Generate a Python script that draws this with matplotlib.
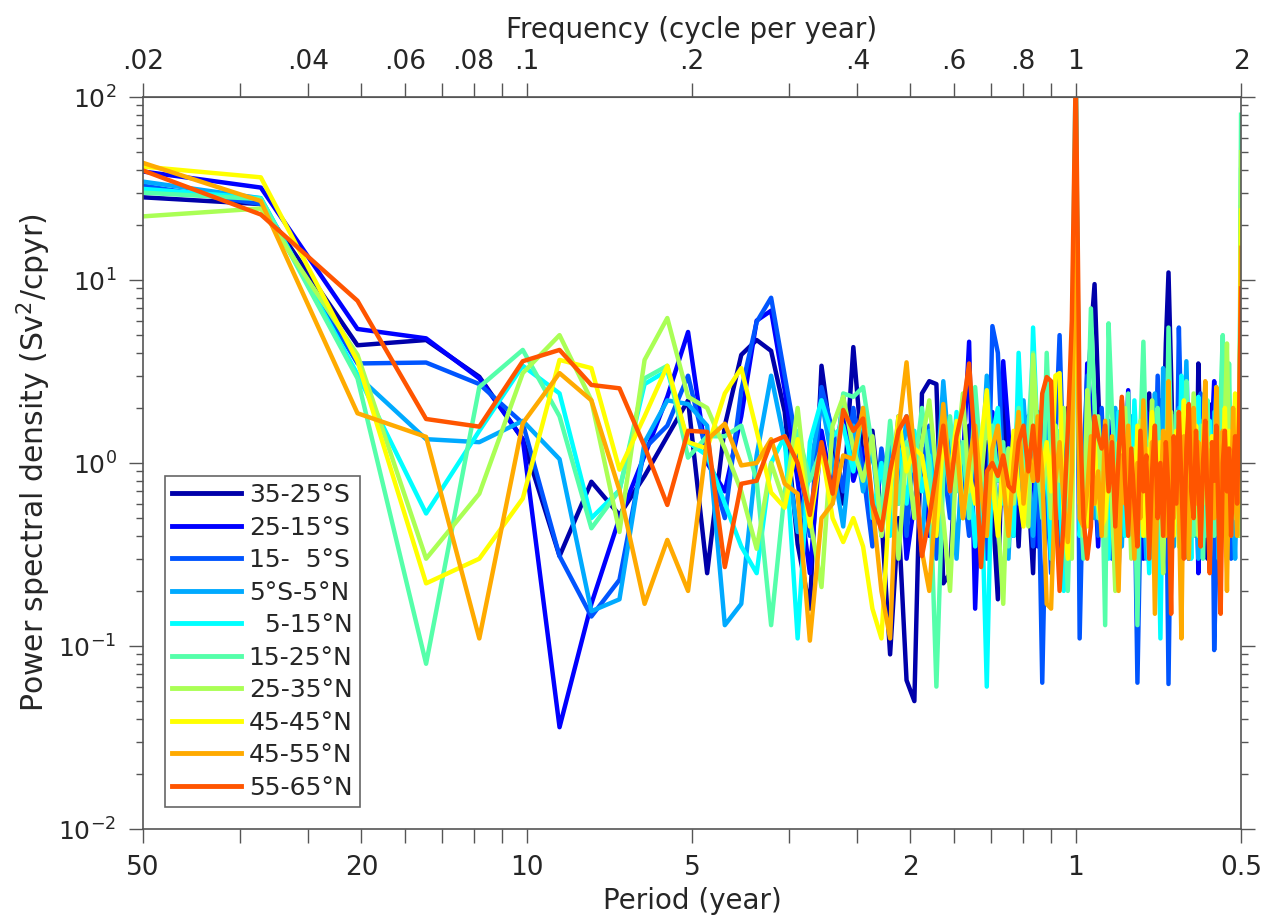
import matplotlib
matplotlib.use('Agg')
from matplotlib import pyplot as plt
from matplotlib.ticker import NullLocator
import numpy as np

plt.rcParams['font.family'] = ['DejaVu Sans']

# spectral estimates at harmonics k/61 cpy, k = 1..122
record_years = 61
freq = np.arange(1, 123) / record_years

region_labels = ['35-25°S', '25-15°S', '15-  5°S', '5°S-5°N', '  5-15°N',
                 '15-25°N', '25-35°N', '45-45°N', '45-55°N', '55-65°N']
# matlab jet(12), first ten entries
region_colors = [(0, 0, 2 / 3), (0, 0, 1), (0, 1 / 3, 1), (0, 2 / 3, 1), (0, 1, 1),
                 (1 / 3, 1, 2 / 3), (2 / 3, 1, 1 / 3), (1, 1, 0), (1, 2 / 3, 0), (1, 1 / 3, 0)]

psd_35_25s = [29.3, 26, 4.4, 4.7, 2.96, 1.35, 0.31, 0.79, 0.52, 0.85,
              1.4, 2.2, 0.25, 1.6, 3.9, 4.7, 4.1, 1.9, 0.36, 0.16,
              3.4, 1.2, 0.6, 4.3, 1.0, 1.5, 0.5, 0.09, 0.5, 0.065,
              0.05, 2.4, 2.8, 2.7, 0.22, 0.25, 1.3, 0.6, 1.6, 0.9,
              0.4, 1.3, 0.6, 0.18, 2.2, 0.8, 1.1, 0.35, 1.5, 0.7,
              0.25, 1.9, 0.9, 1.3, 0.6, 0.4, 1.2, 0.8, 2.0, 1.3,
              45, 0.5, 0.4, 2.0, 5.0, 9.5, 2.5, 0.8, 1.4, 0.9,
              0.35, 1.6, 0.5, 2.2, 1.0, 0.45, 0.7, 1.8, 0.4, 0.3,
              1.1, 0.6, 2.4, 0.9, 0.5, 1.5, 0.3, 1.2, 4.5, 11,
              3.0, 0.7, 1.3, 0.45, 0.9, 2.6, 0.7, 0.3, 1.5, 0.9,
              0.4, 3.5, 1.2, 0.6, 1.9, 0.3, 0.8, 2.1, 0.5, 1.0,
              0.25, 1.5, 0.7, 3.2, 0.9, 0.4, 1.6, 0.6, 2.0, 0.8,
              0.5, 5.0]

psd_25_15s = [42.5, 32, 5.4, 4.8, 2.9, 1.35, 0.036, 0.17, 0.5, 1.1,
              2.3, 5.2, 1.0, 0.7, 1.8, 6.0, 6.8, 2.5, 0.8, 0.25,
              1.5, 0.7, 2.3, 0.8, 1.2, 0.4, 1.0, 0.7, 1.5, 0.3,
              0.6, 1.2, 0.4, 0.9, 2.0, 0.7, 1.5, 1.0, 4.6, 0.16,
              1.2, 0.5, 1.9, 0.8, 3.6, 1.5, 0.4, 1.1, 0.6, 1.8,
              0.9, 0.35, 1.4, 2.6, 0.7, 1.0, 0.3, 1.3, 0.8, 2.2,
              70, 1.0, 0.5, 3.5, 2.0, 0.9, 0.35, 1.2, 0.6, 1.7,
              0.5, 0.9, 0.25, 1.4, 0.7, 2.5, 0.4, 0.8, 1.5, 0.6,
              0.3, 1.9, 0.8, 0.5, 1.3, 0.4, 2.2, 0.9, 0.6, 1.1,
              0.3, 1.6, 0.5, 3.0, 0.7, 1.2, 0.4, 0.9, 2.0, 0.5,
              1.4, 0.25, 1.0, 0.6, 1.8, 0.8, 0.3, 1.5, 2.8, 0.7,
              1.1, 0.4, 2.0, 0.9, 0.5, 1.6, 0.35, 1.2, 0.7, 0.5,
              0.4, 3.0]

psd_15_5s = [36, 26, 3.5, 3.54, 2.7, 1.65, 0.31, 0.145, 0.23, 1.2,
             1.6, 3.0, 1.1, 0.5, 2.5, 5.9, 8.0, 3.0, 1.2, 0.4,
             2.6, 1.5, 0.7, 2.0, 0.9, 0.35, 1.2, 0.6, 1.8, 0.4,
             1.4, 0.9, 1.6, 0.3, 1.0, 0.5, 1.4, 0.8, 0.4, 1.5,
             0.7, 0.3, 5.6, 4.0, 0.9, 0.4, 1.2, 0.6, 1.9, 0.8,
             0.35, 1.5, 0.063, 1.0, 0.25, 1.3, 5.0, 0.8, 0.4, 1.6,
             90, 0.11, 1.0, 3.0, 0.5, 1.2, 0.4, 2.0, 0.6, 1.0,
             0.3, 1.4, 0.8, 0.4, 1.7, 0.6, 1.0, 0.9, 0.063, 0.5,
             2.0, 0.9, 0.3, 1.4, 0.7, 3.0, 1.0, 0.5, 1.5, 0.062,
             0.8, 1.8, 0.5, 5.5, 1.5, 0.6, 1.2, 0.3, 1.9, 0.7,
             0.4, 1.3, 2.4, 0.6, 0.8, 1.0, 0.5, 1.6, 0.095, 0.3,
             1.4, 2.5, 0.6, 1.1, 0.4, 0.8, 0.3, 1.5, 0.6, 0.4,
             0.5, 20]

psd_5s_5n = [37.5, 28, 3.0, 1.35, 1.3, 1.7, 1.05, 0.155, 0.18, 1.3,
             2.2, 2.1, 1.6, 0.13, 0.17, 1.1, 3.0, 1.3, 0.42, 0.9,
             2.2, 1.0, 0.45, 1.6, 0.7, 1.2, 0.4, 1.4, 0.6, 1.8,
             0.9, 0.35, 1.5, 0.7, 2.8, 1.0, 0.3, 1.2, 0.6, 1.7,
             0.8, 3.0, 1.2, 0.5, 1.0, 0.3, 1.4, 0.7, 2.2, 0.9,
             0.4, 1.1, 0.6, 1.8, 0.3, 1.0, 0.5, 1.3, 0.7, 1.0,
             100, 0.5, 0.35, 2.5, 1.0, 0.5, 1.6, 0.7, 0.3, 1.3,
             0.6, 2.0, 0.8, 0.35, 1.2, 0.6, 1.8, 0.9, 0.4, 1.5,
             0.7, 0.3, 1.1, 0.5, 2.4, 1.0, 0.45, 3.3, 1.2, 0.6,
             1.5, 0.35, 0.9, 2.0, 0.6, 1.3, 3.6, 1.1, 0.5, 1.4,
             0.7, 0.3, 1.7, 0.8, 2.6, 0.5, 1.2, 0.4, 1.9, 0.9,
             0.3, 1.0, 2.9, 0.7, 1.3, 0.5, 1.9, 0.6, 0.3, 0.9,
             0.4, 25]

psd_5_15n = [33, 28, 3.05, 0.53, 1.5, 3.4, 2.4, 0.5, 0.71, 2.7,
             3.2, 1.3, 1.1, 0.6, 0.35, 0.25, 1.0, 1.4, 0.11, 1.3,
             2.2, 1.4, 1.6, 0.9, 2.0, 0.5, 1.0, 0.4, 1.2, 0.6,
             1.5, 0.7, 1.1, 0.5, 1.3, 0.7, 1.9, 0.5, 1.0, 0.35,
             0.9, 0.06, 1.4, 2.0, 0.6, 1.2, 0.4, 4.0, 1.0, 0.5,
             5.5, 1.3, 0.6, 1.1, 0.3, 1.6, 0.8, 0.2, 1.2, 3.0,
             160, 0.4, 0.7, 1.2, 0.5, 0.8, 1.5, 0.5, 1.0, 0.3,
             1.3, 0.6, 1.9, 0.8, 0.4, 1.1, 0.6, 2.2, 0.9, 0.4,
             1.3, 0.6, 0.25, 0.9, 1.6, 0.7, 0.11, 1.2, 0.5, 2.0,
             0.8, 0.4, 1.4, 0.7, 3.0, 1.2, 0.5, 1.0, 0.3, 1.6,
             0.8, 2.3, 0.6, 1.3, 0.4, 0.9, 1.7, 0.5, 1.1, 2.6,
             0.6, 0.3, 1.2, 0.7, 2.1, 0.9, 0.4, 1.4, 0.6, 1.8,
             0.5, 40]

psd_15_25n = [31, 27.7, 2.9, 0.08, 2.6, 4.15, 1.8, 0.44, 0.71, 2.9,
              3.4, 1.07, 1.4, 1.4, 1.6, 0.8, 0.13, 0.7, 1.5, 0.8,
              1.2, 0.6, 2.4, 2.3, 2.6, 1.2, 0.5, 1.7, 0.6, 1.3,
              0.9, 2.0, 1.0, 0.06, 0.9, 1.8, 0.7, 1.3, 0.5, 2.6,
              1.0, 0.4, 1.6, 0.8, 1.3, 0.35, 1.1, 2.0, 0.7, 1.5,
              4.0, 1.0, 0.5, 4.0, 1.0, 0.4, 1.5, 0.7, 0.2, 1.1,
              110, 0.8, 0.3, 1.3, 7.0, 2.0, 0.5, 1.1, 0.13, 5.8,
              1.9, 1.0, 0.5, 1.4, 0.7, 2.4, 0.4, 1.0, 0.13, 1.5,
              4.6, 1.0, 0.5, 1.3, 0.35, 2.0, 0.8, 1.4, 0.6, 5.5,
              1.2, 0.5, 1.9, 0.7, 0.3, 1.0, 2.8, 0.6, 1.5, 0.4,
              1.1, 0.5, 1.6, 0.3, 0.9, 2.2, 0.7, 1.3, 0.4, 1.0,
              0.6, 2.3, 5.0, 1.2, 0.5, 3.5, 0.9, 1.5, 0.5, 1.0,
              0.6, 80]

psd_25_35n = [21.4, 24.6, 3.9, 0.30, 0.68, 3.1, 5.0, 2.2, 0.42, 3.66,
              6.2, 2.3, 2.0, 1.2, 0.7, 0.34, 1.0, 0.6, 2.0, 0.5,
              0.21, 1.6, 2.3, 1.2, 0.8, 1.4, 0.4, 0.9, 0.3, 1.2,
              0.5, 1.3, 2.2, 0.9, 0.5, 0.2, 1.1, 2.4, 0.7, 1.5,
              0.8, 1.8, 1.0, 0.5, 0.17, 1.2, 0.6, 1.5, 0.8, 0.45,
              3.9, 1.4, 0.7, 1.2, 0.5, 1.6, 0.8, 2.0, 1.0, 0.3,
              40, 1.0, 0.4, 2.5, 1.4, 0.6, 1.8, 0.8, 0.4, 1.1,
              0.6, 0.2, 1.3, 0.7, 2.0, 0.9, 0.3, 1.2, 0.6, 1.7,
              0.8, 0.4, 1.0, 2.2, 0.5, 1.3, 0.7, 0.25, 1.5, 0.8,
              1.9, 0.6, 1.1, 0.35, 1.4, 0.7, 1.7, 0.5, 1.0, 2.4,
              0.9, 0.4, 1.2, 0.6, 1.8, 0.8, 0.3, 1.4, 0.7, 2.0,
              0.5, 1.1, 0.4, 1.6, 4.5, 1.0, 0.5, 1.3, 0.7, 1.5,
              0.4, 50]

psd_45_45n = [44, 36.4, 3.6, 0.22, 0.30, 0.64, 3.66, 3.3, 0.92, 1.8,
              3.4, 1.3, 1.2, 2.4, 3.3, 1.5, 0.69, 0.57, 1.35, 0.45,
              1.2, 0.5, 0.37, 0.5, 0.35, 0.16, 0.11, 0.7, 1.8, 0.9,
              1.2, 1.1, 0.6, 0.4, 1.4, 0.8, 1.7, 0.5, 0.9, 0.6,
              1.3, 2.5, 0.8, 0.4, 1.1, 0.6, 1.5, 0.7, 0.45, 1.2,
              0.8, 1.6, 0.9, 1.3, 0.7, 3.0, 3.1, 0.5, 0.3, 1.0,
              25, 0.6, 0.7, 0.45, 0.9, 1.3, 0.6, 0.45, 0.5, 0.9,
              1.2, 0.7, 0.4, 1.0, 1.4, 0.6, 1.1, 0.5, 1.6, 0.8,
              0.4, 1.2, 0.7, 1.9, 0.9, 0.5, 1.3, 0.6, 1.0, 1.8,
              0.8, 0.4, 1.5, 0.7, 1.1, 2.2, 0.6, 1.3, 0.5, 0.9,
              1.6, 0.7, 0.4, 1.2, 2.7, 0.8, 0.5, 1.4, 0.9, 0.6,
              1.3, 0.4, 1.0, 2.0, 0.7, 1.5, 0.5, 1.1, 2.4, 0.8,
              0.6, 24]

psd_45_55n = [53, 27, 1.87, 1.39, 0.11, 1.65, 3.1, 2.2, 0.71, 0.17,
              0.38, 0.20, 1.34, 1.64, 0.97, 1.0, 1.35, 0.77, 0.68, 0.107,
              0.5, 0.6, 1.1, 1.05, 2.0, 0.6, 0.2, 0.11, 1.5, 3.55,
              1.1, 0.33, 0.2, 0.7, 2.1, 0.8, 1.3, 0.5, 1.0, 1.6,
              0.7, 0.4, 1.2, 1.6, 0.8, 0.4, 1.0, 1.9, 0.6, 1.1,
              0.8, 1.8, 0.9, 0.17, 0.16, 0.8, 1.3, 0.6, 0.37, 0.9,
              60, 0.5, 0.45, 0.7, 1.4, 0.6, 0.9, 0.4, 1.7, 0.8,
              1.4, 0.5, 0.2, 1.1, 0.6, 1.6, 0.7, 0.3, 1.0, 0.5,
              2.2, 0.8, 0.4, 1.3, 0.15, 0.9, 0.6, 1.5, 0.4, 2.8,
              0.9, 0.5, 1.2, 0.6, 0.11, 1.4, 0.7, 0.3, 1.0, 2.0,
              0.6, 1.3, 0.4, 0.9, 2.8, 0.7, 0.3, 1.2, 0.5, 2.6,
              1.0, 0.4, 1.5, 0.7, 0.2, 1.1, 0.6, 2.0, 0.8, 0.4,
              1.0, 15]

psd_55_65n = [49.6, 22.8, 7.7, 1.74, 1.58, 3.6, 4.15, 2.67, 2.56, 1.23,
              0.59, 1.5, 1.48, 0.27, 0.77, 0.8, 1.3, 1.4, 1.0, 0.52,
              1.3, 0.68, 1.95, 1.5, 1.75, 0.6, 0.43, 0.9, 1.5, 1.8,
              1.0, 0.31, 0.5, 0.9, 1.6, 0.7, 1.4, 2.0, 3.5, 1.2,
              0.27, 0.9, 1.0, 0.85, 1.1, 0.75, 0.7, 1.3, 1.6, 0.9,
              1.6, 0.8, 2.4, 2.95, 2.8, 0.6, 0.2, 0.5, 1.5, 6.0,
              140, 2.0, 0.5, 0.3, 0.45, 1.8, 1.4, 1.2, 1.6, 0.7,
              1.3, 0.45, 1.1, 2.3, 0.8, 0.4, 1.2, 0.6, 0.35, 1.5,
              0.7, 1.1, 0.3, 0.9, 1.6, 0.5, 1.0, 0.4, 1.3, 0.7,
              0.15, 1.4, 0.6, 1.9, 0.8, 0.3, 1.2, 2.1, 0.7, 0.5,
              1.5, 0.8, 0.35, 1.0, 1.7, 0.6, 0.25, 1.3, 0.8, 1.6,
              0.5, 0.15, 1.0, 1.5, 0.7, 1.2, 0.4, 0.9, 1.4, 0.6,
              1.8, 9]

all_psd = [psd_35_25s, psd_25_15s, psd_15_5s, psd_5s_5n, psd_5_15n,
           psd_15_25n, psd_25_35n, psd_45_45n, psd_45_55n, psd_55_65n]

freq_ticks = [0.02, 0.03, 0.04, 0.05, 0.06, 0.07, 0.08, 0.09, 0.1,
              0.2, 0.3, 0.4, 0.5, 0.6, 0.7, 0.8, 0.9, 1, 2]
top_labels = ['.02', '', '.04', '', '.06', '', '.08', '', '.1',
              '.2', '', '.4', '', '.6', '', '.8', '', '1', '2']
period_labels = ['50', '', '', '20', '', '', '', '', '10',
                 '5', '', '', '2', '', '', '', '', '1', '0.5']

frame_color = '#555555'
text_color = '#262626'

fig = plt.figure(figsize=(12.73, 9.24), dpi=100)
ax = fig.add_axes([0.1123, 0.1028, 0.8626, 0.7922])

for psd, label, color in zip(all_psd, region_labels, region_colors):
    ax.plot(freq, psd, color=color, lw=3.2, label=label)

ax.set_xscale('log')
ax.set_yscale('log')
ax.set_xlim(0.02, 2)
ax.set_ylim(1e-2, 1e2)

ax.set_xticks(freq_ticks, labels=period_labels)
ax.xaxis.set_minor_locator(NullLocator())
ax.set_yticks([1e-2, 1e-1, 1e0, 1e1, 1e2])

ax.tick_params(which='both', direction='out', top=False, right=True,
               color=frame_color, labelcolor=text_color)
ax.tick_params(which='major', length=10, width=1)
ax.tick_params(which='minor', length=5, width=1)
ax.tick_params(axis='x', labelsize=19, pad=9)
ax.tick_params(axis='y', labelsize=18, pad=9)
for spine in ax.spines.values():
    spine.set_color(frame_color)
    spine.set_linewidth(1.2)

secax = ax.secondary_xaxis('top')
secax.set_xticks(freq_ticks, labels=top_labels)
secax.xaxis.set_minor_locator(NullLocator())
secax.tick_params(direction='out', length=10, width=1, color=frame_color,
                  labelcolor=text_color, labelsize=19, pad=6)
secax.spines['top'].set_color(frame_color)
secax.set_xlabel('Frequency (cycle per year)', fontsize=20, color=text_color, labelpad=8)

ax.set_xlabel('Period (year)', fontsize=20, color=text_color, labelpad=4)
ax.set_ylabel('Power spectral density (Sv$^2$/cpyr)', fontsize=21.5,
              color=text_color, labelpad=4)

leg = ax.legend(loc='lower left', bbox_to_anchor=(0.02, 0.03), borderaxespad=0,
                fontsize=18, handlelength=2.75, handletextpad=0.3,
                labelspacing=0.34, borderpad=0.3, fancybox=False,
                framealpha=1, edgecolor='#666666')
leg.get_frame().set_linewidth(1.2)
for line in leg.get_lines():
    line.set_linewidth(3.5)
for text in leg.get_texts():
    text.set_color(text_color)

plt.savefig('out.png', dpi=100)
